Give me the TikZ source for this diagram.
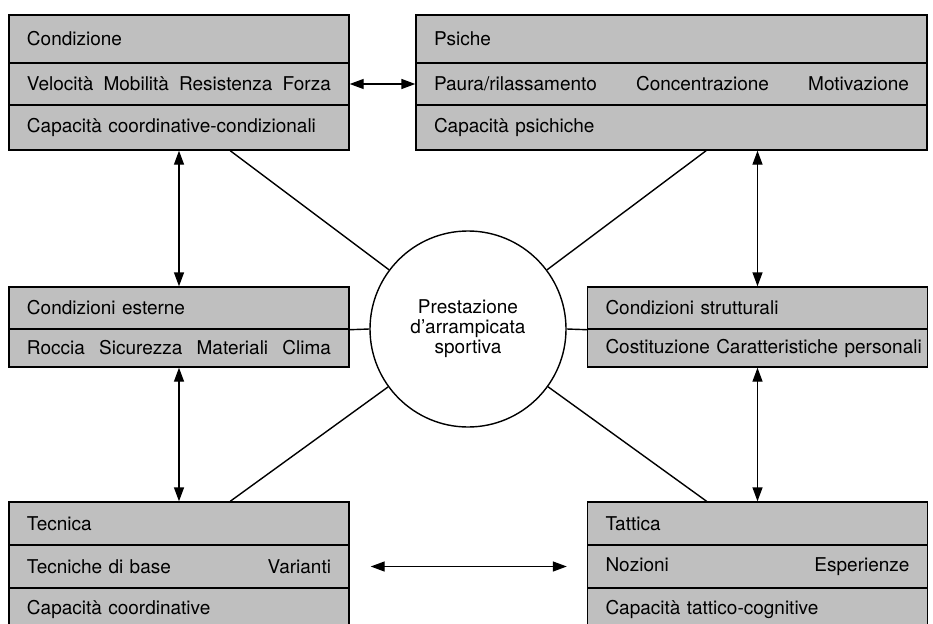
\documentclass[tikz,border=0pt]{standalone}
\usepackage{fontspec}
\setmainfont{TeX Gyre Heros}
\usetikzlibrary{arrows.meta, calc}
\tikzset{
  field/.style={
    rectangle,
    draw,
    fill=black!25,
    line width=1.4pt,
    inner xsep=18pt,
    inner ysep=0pt,
    text width=304pt,
    align=left,
    font=\fontsize{19}{20}\selectfont
  },
  widefield/.style={
    field,
    text width=475pt
  },
  hub/.style={
    circle,
    draw,
    fill=white,
    line width=1.4pt,
    minimum size=196pt,
    inner sep=0pt,
    align=center,
    font=\fontsize{19}{20}\selectfont
  },
  arrow/.style={{Triangle[length=14pt,width=10pt]}-{Triangle[length=14pt,width=10pt]}, line width=1.4pt},
  link/.style={line width=1.4pt}
}

\begin{document}
\begin{tikzpicture}[x=1pt,y=-1pt]
\useasboundingbox (0,0) rectangle (933,623);
\node[field, minimum height=48pt] (cond1) at (179,39) {Condizione};
\node[field, minimum height=42pt] (cond2) at (179,84) {Velocità\hfill Mobilità\hfill Resistenza\hfill Forza};
\node[field, minimum height=45pt] (cond3) at (179,127.5) {Capacità coordinative-condizionali};
\node[widefield, minimum height=48pt] (psi1) at (671.5,39) {Psiche};
\node[widefield, minimum height=42pt] (psi2) at (671.5,84) {Paura/rilassamento\hfill Concentrazione\hfill Motivazione};
\node[widefield, minimum height=45pt] (psi3) at (671.5,127.5) {Capacità psichiche};
\node[field, minimum height=42pt] (ext1) at (179,308) {Condizioni esterne};
\node[field, minimum height=38pt] (ext2) at (179,348) {Roccia\hfill Sicurezza\hfill Materiali\hfill Clima};
\node[field, minimum height=42pt] (str1) at (757.5,308) {Condizioni strutturali};
\node[field, minimum height=38pt] (str2) at (757.5,348) {\mbox{Costituzione Caratteristiche personali}};
\node[field, minimum height=43pt] (tec1) at (179,523.5) {Tecnica};
\node[field, minimum height=43pt] (tec2) at (179,566.5) {Tecniche di base\hfill Varianti};
\node[field, minimum height=43pt] (tec3) at (179,609.5) {Capacità coordinative};
\node[field, minimum height=43pt] (tat1) at (757.5,523.5) {Tattica};
\node[field, minimum height=43pt] (tat2) at (757.5,566.5) {Nozioni\hfill Esperienze};
\node[field, minimum height=43pt] (tat3) at (757.5,609.5) {Capacità tattico-cognitive};
\node[hub] (perf) at (468,329) {Prestazione\\d’arrampicata\\sportiva};

\draw[arrow] (cond2.east) -- (psi2.west);
\draw[arrow] (cond3.south) -- (ext1.north);
\draw[arrow] (ext2.south) -- (tec1.north);
\draw[arrow] (psi3.south -| str1.north) -- (str1.north);
\draw[arrow] (str2.south) -- (tat1.north);
\draw[arrow] ([xshift=21pt]tec2.east) -- ([xshift=-20pt]tat2.west);
\draw[link] ($(cond3.south west)!0.65!(cond3.south east)$) -- (perf);
\draw[link] ($(psi3.south west)!0.5675!(psi3.south east)$) -- (perf);
\draw[link] ($(tec1.north west)!0.65!(tec1.north east)$) -- (perf);
\draw[link] ($(tat1.north west)!0.351!(tat1.north east)$) -- (perf);
\draw[link] (ext1.south east) -- (perf.west);
\draw[link] (perf.east) -- (str1.south west);
\end{tikzpicture}
\end{document}
